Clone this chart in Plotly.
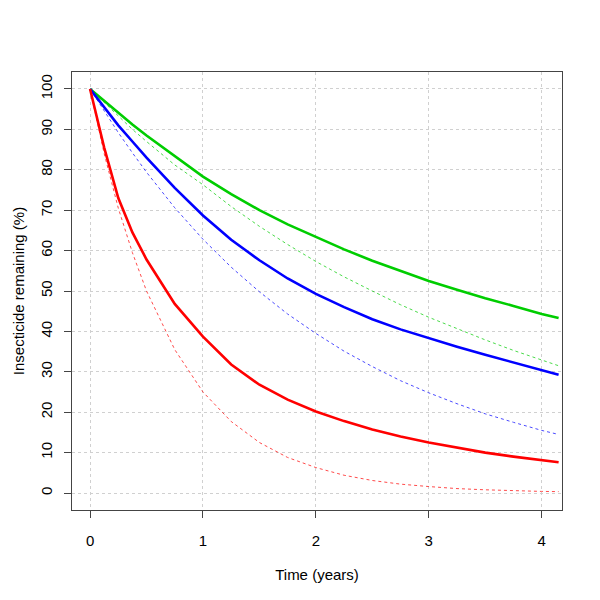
import plotly.graph_objects as go

time_years = [0, 0.125, 0.25, 0.375, 0.5, 0.75, 1.0, 1.25, 1.5, 1.75, 2.0, 2.25, 2.5,
              2.75, 3.0, 3.25, 3.5, 3.75, 4.0, 4.15]

green_solid = [100, 97, 94, 91.2, 88.5, 83.3, 78.3, 74, 70, 66.5, 63.3, 60.3, 57.5,
               55, 52.5, 50.3, 48.2, 46.3, 44.3, 43.3]
green_dashed = [100, 96.6, 93.2, 90, 87, 81.2, 76.3, 70.9, 66, 61.5, 57.3, 53.5, 50,
                46.6, 43.5, 40.6, 37.9, 35.3, 32.9, 31.5]
blue_solid = [100, 95.4, 91, 87, 83, 75.5, 68.7, 62.7, 57.6, 53.1, 49.3, 46, 43,
              40.5, 38.3, 36.2, 34.2, 32.3, 30.3, 29.3]
blue_dashed = [100, 94.5, 89.2, 84.2, 79.4, 70.6, 62.8, 55.9, 49.8, 44.3, 39.5, 35.1, 31.3,
               27.8, 24.8, 22.1, 19.6, 17.5, 15.5, 14.5]
red_solid = [100, 85.5, 73, 64.5, 57.8, 46.8, 38.7, 31.8, 26.8, 23.1, 20.2, 17.8, 15.7,
             14, 12.5, 11.2, 10, 9, 8.1, 7.6]
red_dashed = [100, 84, 70.5, 59.5, 50, 35.5, 25, 17.7, 12.5, 8.8, 6.3, 4.4, 3.1,
              2.2, 1.6, 1.1, 0.8, 0.55, 0.4, 0.35]

x_ticks = [0, 1, 2, 3, 4]
y_ticks = list(range(0, 101, 10))

fig = go.Figure()

dashed = [(green_dashed, "#00CD00"), (blue_dashed, "#0000FF"), (red_dashed, "#FF0000")]
solid = [(green_solid, "#00CD00"), (blue_solid, "#0000FF"), (red_solid, "#FF0000")]

for ys, c in dashed:
    fig.add_trace(go.Scatter(x=time_years, y=ys, mode="lines",
                             line=dict(color=c, width=1, dash="3px,3px"),
                             opacity=0.7, showlegend=False, hoverinfo="skip"))
for ys, c in solid:
    fig.add_trace(go.Scatter(x=time_years, y=ys, mode="lines",
                             line=dict(color=c, width=2.6),
                             showlegend=False, hoverinfo="skip"))

font = dict(family="Liberation Sans, Arial, sans-serif", size=15, color="#000000")

fig.update_layout(
    width=600, height=600,
    margin=dict(l=64, r=46, t=64, b=98),
    paper_bgcolor="white", plot_bgcolor="white",
    font=font,
    xaxis=dict(range=[-0.16, 4.18], tickvals=x_ticks, ticktext=[str(v) for v in x_ticks],
               showgrid=True, gridcolor="#d0d0d0", griddash="dot", gridwidth=1,
               zeroline=False, showline=True, linecolor="#444444", linewidth=1, mirror=True,
               ticks="outside", ticklen=7, tickcolor="#444444", ticklabelstandoff=10,
               automargin=False,
               title=dict(text="Time (years)", standoff=21, font=font)),
    yaxis=dict(range=[-4.2, 104.2], tickvals=y_ticks, ticktext=[str(v) for v in y_ticks],
               showgrid=True, gridcolor="#d0d0d0", griddash="dot", gridwidth=1,
               zeroline=False, showline=True, linecolor="#444444", linewidth=1, mirror=True,
               ticks="outside", ticklen=7, tickcolor="#444444", tickangle=-90,
               ticklabelstandoff=6, automargin=False,
               title=dict(text="Insecticide remaining (%)", standoff=9, font=font)),
)

fig.write_html("out.html")
